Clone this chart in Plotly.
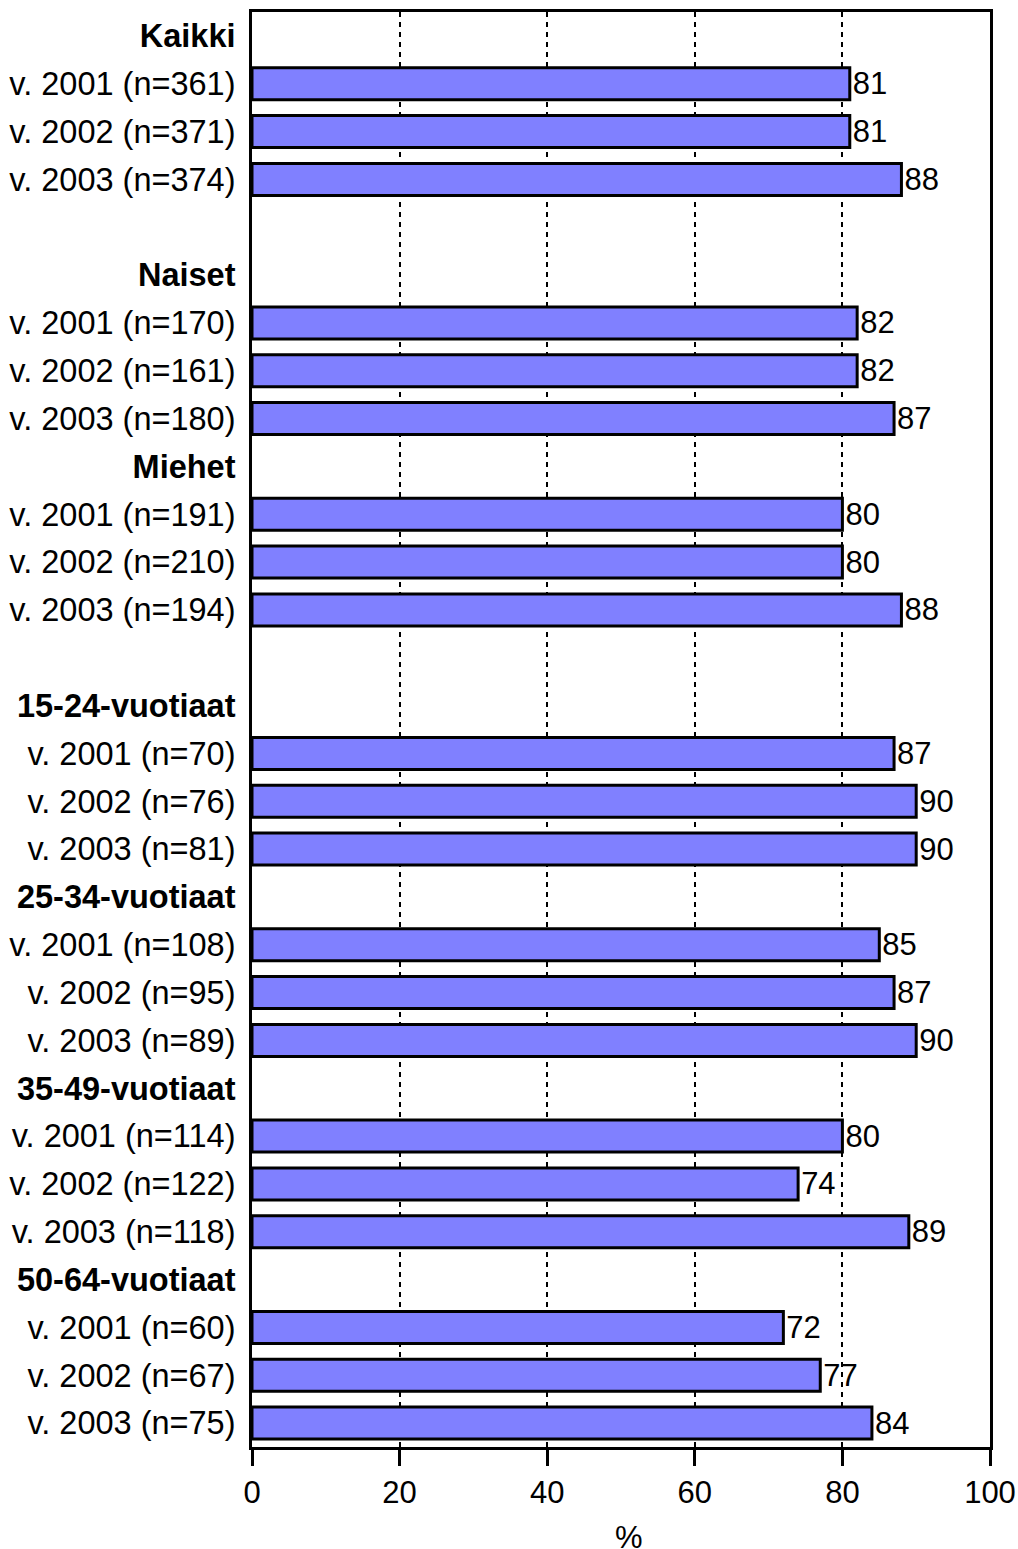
import plotly.graph_objects as go

categories = [
    "<b>Kaikki</b>", "v. 2001 (n=361)", "v. 2002 (n=371)", "v. 2003 (n=374)",
    " ",
    "<b>Naiset</b>", "v. 2001 (n=170)", "v. 2002 (n=161)", "v. 2003 (n=180)",
    "<b>Miehet</b>", "v. 2001 (n=191)", "v. 2002 (n=210)", "v. 2003 (n=194)",
    "  ",
    "<b>15-24-vuotiaat</b>", "v. 2001 (n=70)", "v. 2002 (n=76)", "v. 2003 (n=81)",
    "<b>25-34-vuotiaat</b>", "v. 2001 (n=108)", "v. 2002 (n=95)", "v. 2003 (n=89)",
    "<b>35-49-vuotiaat</b>", "v. 2001 (n=114)", "v. 2002 (n=122)", "v. 2003 (n=118)",
    "<b>50-64-vuotiaat</b>", "v. 2001 (n=60)", "v. 2002 (n=67)", "v. 2003 (n=75)",
]
values = [
    None, 81, 81, 88,
    None,
    None, 82, 82, 87,
    None, 80, 80, 88,
    None,
    None, 87, 90, 90,
    None, 85, 87, 90,
    None, 80, 74, 89,
    None, 72, 77, 84,
]
x_ticks = [0, 20, 40, 60, 80, 100]
x_title = "%"

FONT = "Liberation Sans, Arial, sans-serif"

fig = go.Figure(go.Bar(
    y=categories,
    x=values,
    orientation="h",
    width=0.67,
    marker=dict(color="#8080FF", line=dict(color="black", width=3)),
    text=["" if v is None else str(v) for v in values],
    textposition="outside",
    textfont=dict(size=31, color="black", family=FONT),
    constraintext="none",
    cliponaxis=False,
    hoverinfo="skip",
))

fig.update_layout(
    width=1018, height=1549,
    margin=dict(l=252, r=28, t=12, b=102, autoexpand=False),
    plot_bgcolor="white", paper_bgcolor="white",
    font=dict(family=FONT, size=31, color="black"),
    showlegend=False,
    bargap=0.33,
    annotations=[dict(
        text=x_title, xref="paper", yref="paper", x=0.511, y=-0.063,
        xanchor="center", yanchor="middle", showarrow=False,
        font=dict(size=31, color="black", family=FONT),
    )],
)
fig.update_xaxes(
    range=[0, 100], tickvals=x_ticks, automargin=False,
    showgrid=True, gridcolor="black", gridwidth=2, griddash="5px,5px",
    showline=True, linecolor="black", linewidth=3, mirror=True,
    ticks="outside", ticklen=16, tickwidth=3, tickcolor="black",
    tickfont=dict(size=31),
    zeroline=False,
)
fig.update_yaxes(
    type="category", categoryorder="array", categoryarray=categories,
    autorange="reversed", automargin=False,
    showgrid=False, showline=True, linecolor="black", linewidth=3, mirror=True,
    ticks="", ticklabelstandoff=7,
    tickfont=dict(size=32.5),
)

# remove the page's default body margin so the figure fills the window exactly
fig.write_html(
    "out.html",
    config={"displayModeBar": False},
    post_script="document.body.style.margin='0';"
                "document.documentElement.style.overflow='hidden';"
                "document.body.style.overflow='hidden';",
)
